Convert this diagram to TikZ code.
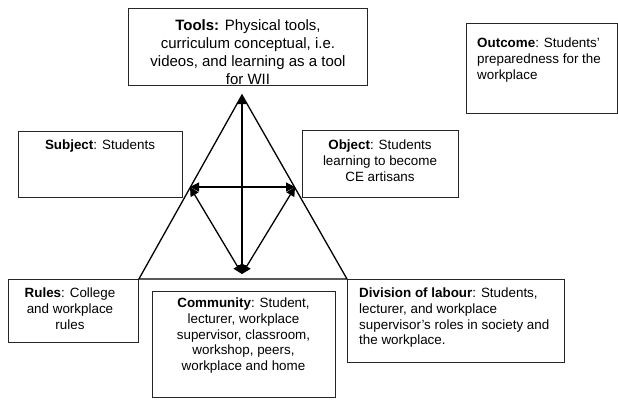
\documentclass[tikz,border=0pt]{standalone}
\usepackage{fontspec}
\setmainfont{Liberation Sans}
\usetikzlibrary{arrows.meta}
\begin{document}
\begin{tikzpicture}[x=1pt,y=-1pt,
  box/.style={draw=black!85, line width=0.9pt, inner sep=0pt, anchor=north west},
  txt/.style={inner sep=0pt, font=\fontsize{13.4}{15.6}\selectfont},
  edge/.style={line width=1.3pt},
  dbl/.style={line width=1.3pt, {Triangle[length=9pt,width=9pt]}-{Triangle[length=9pt,width=9pt]}}]
\useasboundingbox (0,0) rectangle (618,400);
% boxes
\node[box, minimum width=239pt, minimum height=77pt] (tools) at (128,8) {};
\node[box, minimum width=151pt, minimum height=90pt] (outcome) at (466,23) {};
\node[box, minimum width=164pt, minimum height=66pt] (subject) at (18,131) {};
\node[box, minimum width=156pt, minimum height=67pt] (object) at (302,130) {};
\node[box, minimum width=130pt, minimum height=63pt] (rules) at (8,279) {};
\node[box, minimum width=183pt, minimum height=106pt] (community) at (152,291) {};
\node[box, minimum width=217pt, minimum height=83pt] (division) at (347,279) {};
% texts
\begin{scope}
\clip (tools.north west) rectangle (tools.south east);
\node[txt, font=\fontsize{15}{18.2}\selectfont, align=center, anchor=north] (toolstxt) at (248,19)
  {\textbf{Tools:} Physical tools,\\curriculum conceptual, i.e.\\videos, and learning as a tool\\for WII};
\end{scope}
\node[txt, align=left, anchor=north west] (outcometxt) at (477,38)
  {\textbf{Outcome}: Students’\\preparedness for the\\workplace};
\node[txt, align=center, anchor=north] (subjecttxt) at (100,140) {\textbf{Subject}: Students};
\node[txt, align=center, anchor=north] (objecttxt) at (380,140)
  {\textbf{Object}: Students\\learning to become\\CE artisans};
\node[txt, align=center, anchor=north] (rulestxt) at (70,288)
  {\textbf{Rules}: College\\and workplace\\rules};
\node[txt, align=center, anchor=north] (communitytxt) at (243.5,298)
  {\textbf{Community}: Student,\\lecturer, workplace\\supervisor, classroom,\\workshop, peers,\\workplace and home};
\node[txt, align=left, anchor=north west] (divisiontxt) at (359,288)
  {\textbf{Division of labour}: Students,\\lecturer, and workplace\\supervisor’s roles in society and\\the workplace.};
% triangle
\coordinate (A) at (242,95);
\coordinate (L) at (190,187);
\coordinate (R) at (295,187);
\coordinate (B) at (242,274);
\draw[edge, line join=miter] (A) -- (rules.north east) -- (division.north west) -- cycle;
\draw[dbl] (B) -- (A);
\draw[dbl] (L) -- (R);
\draw[dbl] (L) -- (B);
\draw[dbl] (R) -- (B);
\end{tikzpicture}
\end{document}
